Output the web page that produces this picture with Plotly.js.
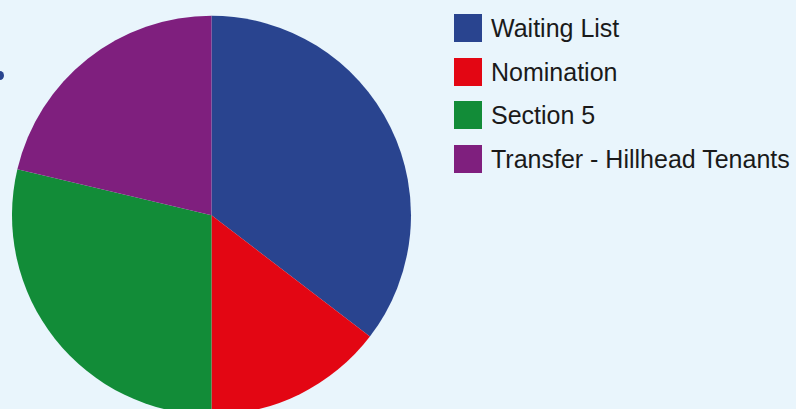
<!DOCTYPE html>
<html>
<head>
<meta charset="utf-8">
<script src="https://cdn.plot.ly/plotly-3.0.1.min.js"></script>
<style>
html,body{margin:0;padding:0;overflow:hidden;background:#E9F5FC;width:796px;height:409px;}
#chart{width:796px;height:430px;}
</style>
</head>
<body>
<div id="chart"></div>
<script>
const categories = ["Waiting List", "Nomination", "Section 5", "Transfer - Hillhead Tenants"];
const values = [35.4, 14.6, 28.7, 21.3];
const colors = ["#29448F", "#E30613", "#128C38", "#7F1F7E"];

const W = 796, H = 430;
const px = x => x / W;
const py = y => 1 - y / H;

const trace = {
  type: "pie",
  labels: categories,
  values: values,
  sort: false,
  direction: "clockwise",
  rotation: 0,
  textinfo: "none",
  hoverinfo: "label+percent",
  marker: {colors: colors, line: {width: 0}},
  domain: {x: [px(12), px(411)], y: [py(415), py(15.5)]},
  showlegend: false
};

const shapes = [];
const annotations = [];
const rowTops = [14, 58, 101, 145];
categories.forEach((c, i) => {
  const t = rowTops[i];
  shapes.push({type: "rect", xref: "paper", yref: "paper",
    x0: px(454), x1: px(482), y0: py(t + 28), y1: py(t),
    fillcolor: colors[i], line: {width: 0}});
  annotations.push({xref: "paper", yref: "paper", x: px(489), y: py(t + 14),
    xanchor: "left", yanchor: "middle", showarrow: false, text: c,
    font: {family: "Liberation Sans, Arial, sans-serif", size: 25, color: "#1a1a1a"}});
});
// small decorative dot at left edge
shapes.push({type: "circle", xref: "paper", yref: "paper",
  x0: px(-4), x1: px(4), y0: py(80), y1: py(71), fillcolor: "#29448F", line: {width: 0}});

Plotly.newPlot("chart", [trace], {
  width: W, height: H,
  margin: {l: 0, r: 0, t: 0, b: 0},
  paper_bgcolor: "#E9F5FC",
  plot_bgcolor: "#E9F5FC",
  shapes: shapes,
  annotations: annotations
}, {displayModeBar: false, staticPlot: true});
</script>
</body>
</html>
